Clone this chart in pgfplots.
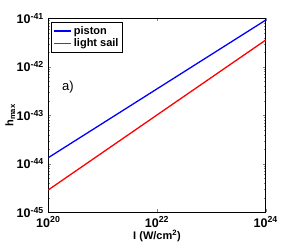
\documentclass[border=0pt]{standalone}
\usepackage{fontspec}
\setmainfont{Liberation Sans}
\usepackage{pgfplots}
\pgfplotsset{compat=1.18}
\definecolor{mblue}{RGB}{0,0,255}
\definecolor{mred}{RGB}{255,0,0}
\begin{document}
\begin{tikzpicture}
\begin{loglogaxis}[
  scale only axis,
  width=217.4pt, height=194pt,
  xmin=1e20, xmax=1e24, ymin=1e-45, ymax=1e-41,
  xtick={1e20,1e22,1e24},
  xticklabels={{10\textsuperscript{20}},{10\textsuperscript{22}},{10\textsuperscript{24}}},
  ytick={1e-45,1e-44,1e-43,1e-42,1e-41},
  yticklabels={{10\textsuperscript{-45}},{10\textsuperscript{-44}},{10\textsuperscript{-43}},{10\textsuperscript{-42}},{10\textsuperscript{-41}}},
  ticklabel style={font=\fontsize{12.5}{14}\selectfont\bfseries},
  xticklabel style={yshift=-1pt},
  yticklabel style={xshift=-1pt},
  tick align=inside,
  major tick length=3pt, minor tick length=1.5pt,
  xminorticks=false,
  axis line style={black, line width=0.6pt},
  xlabel={\bfseries I (W/cm\textsuperscript{2})},
  ylabel={\bfseries h\textsubscript{max}},
  label style={font=\fontsize{11}{13}\selectfont},
  xlabel style={at={(axis description cs:0.5,-0.124)}, anchor=center},
  ylabel style={at={(axis description cs:-0.175,0.5)}, anchor=center, rotate=0},
  legend style={at={(axis description cs:0.014,0.98)}, anchor=north west,
    font=\fontsize{11}{13}\selectfont\bfseries,
    inner sep=2pt, row sep=-1pt},
  legend cell align=left,
  clip=false,
]
\addplot[color=mblue, line width=1.3pt] coordinates {(1e20,1.34e-44) (1e24,9.2e-42)};
\addlegendentry{piston}
\addplot[color=mred, line width=1.3pt] coordinates {(1e20,2.9e-45) (1e24,3.57e-42)};
\addlegendentry{light sail}
\node[font=\fontsize{13}{15}\selectfont] at (axis cs:2.3e20,3.8e-43) {a)};
\end{loglogaxis}
\pgfresetboundingbox
\path (-48.3pt,-33.7pt) rectangle (245.7pt,212.3pt);
\end{tikzpicture}
\end{document}
